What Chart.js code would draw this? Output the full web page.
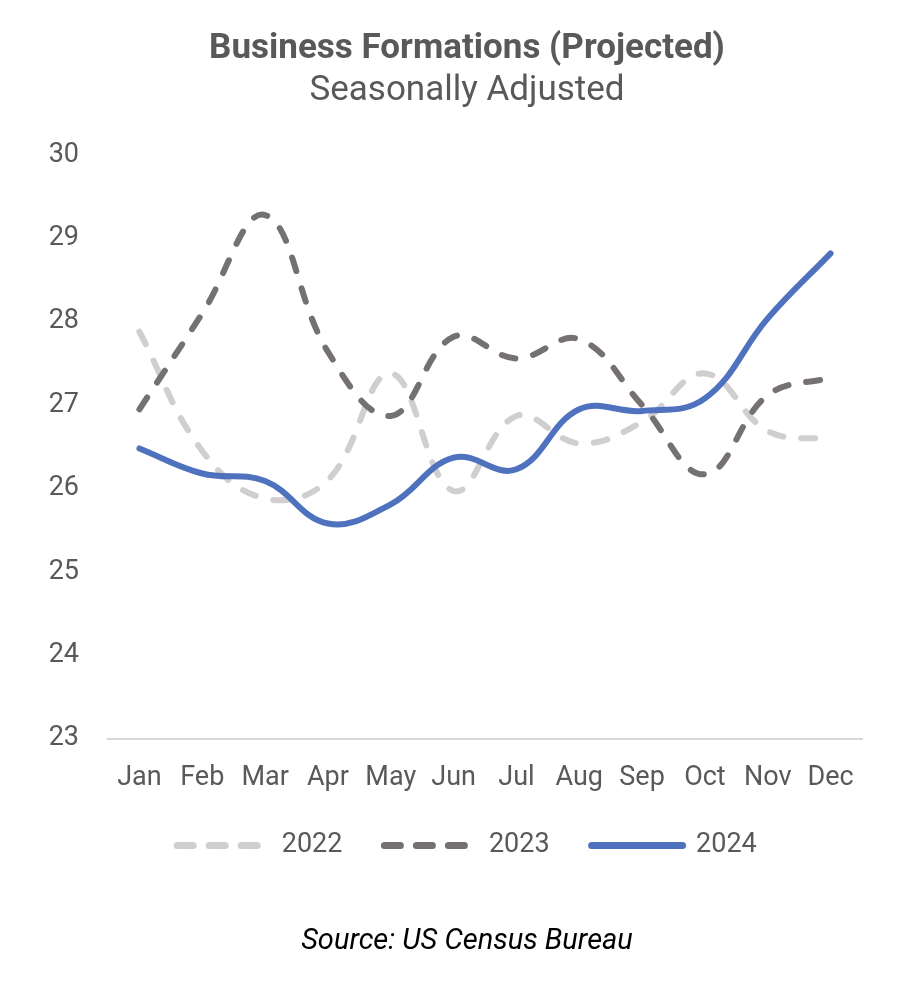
<!DOCTYPE html>
<html>
<head>
<meta charset="utf-8">
<script src="https://cdn.jsdelivr.net/npm/chart.js@4"></script>
<style>
  html, body { margin: 0; padding: 0; background: #fff; overflow: hidden; }
  #wrap { position: relative; width: 900px; height: 984px; }
  #source {
    position: absolute; left: 0; width: 934px; top: 922px;
    text-align: center; font: italic 29px Roboto, sans-serif; color: #000;
  }
</style>
</head>
<body>
<div id="wrap">
  <canvas id="formationsChart"></canvas>
  <div id="source">Source: US Census Bureau</div>
</div>
<script>
// ---- data ----
const months = ["Jan", "Feb", "Mar", "Apr", "May", "Jun", "Jul", "Aug", "Sep", "Oct", "Nov", "Dec"];
const values2022 = [27.88, 26.45, 25.88, 26.1, 27.38, 25.97, 26.87, 26.54, 26.8, 27.38, 26.69, 26.59];
const values2023 = [26.95, 28.1, 29.28, 27.64, 26.87, 27.82, 27.56, 27.79, 27.0, 26.17, 27.12, 27.33];
const values2024 = [26.48, 26.18, 26.09, 25.58, 25.81, 26.37, 26.23, 26.95, 26.93, 27.08, 28.04, 28.82];
const yTicks = [23, 24, 25, 26, 27, 28, 29, 30];

const textColor = "#595959";
const fontFamily = "Roboto, sans-serif";

// the axes are fitted tight so title/legend sit where the original has them;
// widen the label clip boxes again afterwards so nothing gets cut off
const labelRoom = {
  id: "labelRoom",
  afterLayout(chart) {
    chart.scales.x.bottom += 30;
    chart.scales.y.left = 0;
  }
};

const ctx = document.getElementById("formationsChart").getContext("2d");

new Chart(ctx, {
  type: "line",
  data: {
    labels: months,
    datasets: [
      {
        label: "2022",
        data: values2022,
        borderColor: "#D0CECE",
        backgroundColor: "#D0CECE",
        borderWidth: 6,
        borderDash: [14, 18],
        borderCapStyle: "round",
        order: 2
      },
      {
        label: "2023",
        data: values2023,
        borderColor: "#767171",
        backgroundColor: "#767171",
        borderWidth: 6,
        borderDash: [14, 18],
        borderCapStyle: "round",
        order: 0
      },
      {
        label: "2024",
        data: values2024,
        borderColor: "#4E72BE",
        backgroundColor: "#4E72BE",
        borderWidth: 6,
        borderCapStyle: "round",
        order: 1
      }
    ]
  },
  plugins: [labelRoom],
  options: {
    responsive: true,
    maintainAspectRatio: false,
    animation: false,
    layout: { padding: { left: 72, right: 38, top: 0, bottom: 115 } },
    elements: {
      point: { radius: 0, hoverRadius: 0 },
      line: { tension: 0.4 }
    },
    plugins: {
      title: {
        display: true,
        text: "Business Formations (Projected)",
        color: textColor,
        font: { family: fontFamily, size: 35, weight: "bold" },
        padding: { top: 28, bottom: 0 }
      },
      subtitle: {
        display: true,
        text: "Seasonally Adjusted",
        color: textColor,
        font: { family: fontFamily, size: 35 },
        padding: { top: 0, bottom: 43 }
      },
      legend: {
        position: "bottom",
        labels: {
          color: textColor,
          font: { family: fontFamily, size: 27 },
          usePointStyle: true,
          pointStyle: "line",
          pointStyleWidth: 91,
          padding: 42,
          sort: (a, b) => a.datasetIndex - b.datasetIndex,
          generateLabels: (chart) => {
            const items = Chart.defaults.plugins.legend.labels.generateLabels(chart);
            items.forEach(item => {
              const ds = chart.data.datasets[item.datasetIndex];
              item.lineWidth = 7;
              item.lineCap = "round";
              item.strokeStyle = ds.borderColor;
              item.lineDash = ds.borderDash ? [16, 16] : [];
            });
            return items;
          }
        }
      },
      tooltip: { enabled: false }
    },
    scales: {
      x: {
        offset: true,
        grid: { display: false },
        border: { display: true, color: "#D9D9D9", width: 2 },
        afterFit: (scale) => { scale.height = scale.height - 19; },
        ticks: {
          color: textColor,
          font: { family: fontFamily, size: 27 },
          padding: 15,
          maxRotation: 0,
          autoSkip: false
        }
      },
      y: {
        min: yTicks[0],
        max: yTicks[yTicks.length - 1],
        afterFit: (scale) => { scale.width = 36; },
        grid: { display: false },
        border: { display: false },
        ticks: {
          stepSize: 1,
          color: textColor,
          font: { family: fontFamily, size: 27 },
          padding: 21,
          callback: (v) => (yTicks.includes(v) ? v : "")
        }
      }
    }
  }
});
</script>
</body>
</html>
